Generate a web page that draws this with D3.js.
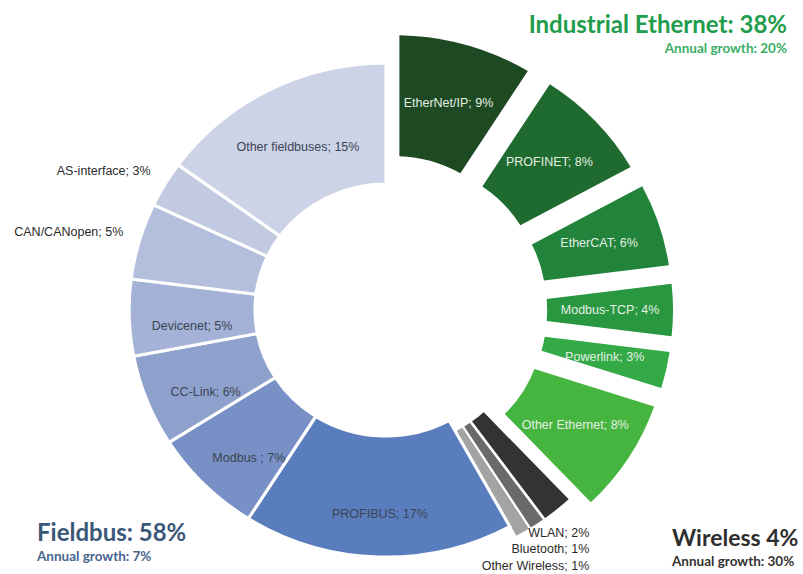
<!DOCTYPE html>
<html>
<head>
<meta charset="utf-8">
<script src="https://cdn.jsdelivr.net/npm/d3@7"></script>
<style>
  body { margin: 0; background: #fff; }
  svg { display: block; }
</style>
</head>
<body>
<div id="chart"></div>
<script>
// segments clockwise from 12 o'clock, share of installed nodes (%)
var segments = ["EtherNet/IP", "PROFINET", "EtherCAT", "Modbus-TCP", "Powerlink", "Other Ethernet",
                "WLAN", "Bluetooth", "Other Wireless",
                "PROFIBUS", "Modbus ", "CC-Link", "Devicenet", "CAN/CANopen", "AS-interface", "Other fieldbuses"];
var shares = [9, 8, 6, 4, 3, 8, 2, 1, 1, 17, 7, 6, 5, 5, 3, 15];
var segmentGroup = ["eth", "eth", "eth", "eth", "eth", "eth",
                    "wl", "wl", "wl",
                    "fb", "fb", "fb", "fb", "fb", "fb", "fb"];

var groups = ["eth", "wl", "fb"];
var groupTitles = ["Industrial Ethernet: 38%", "Wireless 4%", "Fieldbus: 58%"];
var groupGrowth = ["Annual growth: 20%", "Annual growth: 30%", "Annual growth: 7%"];

// labels drawn outside the ring
var outsideLabels = ["CAN/CANopen", "AS-interface"];

var W = 803, H = 574;
var cx = 386, cy = 310, sx = 1.04;
var rIn = 126, rOut = 247;

var colors = d3.scaleOrdinal()
  .domain(segments)
  .range(["#1d4a22", "#1e6a2f", "#22843a", "#28973f", "#33aa46", "#46b540",
          "#333333", "#6a6a6a", "#a3a3a3",
          "#5a7ebd", "#7890c5", "#8ea1cd", "#a3b2d6", "#b3bfdc", "#c1cae1", "#cdd3e7"]);

var explode = { eth: 29, wl: 12, fb: 0 };
var pad = { eth: 0.048, wl: 0, fb: 0 };
var strokeW = { eth: 0, wl: 1.5, fb: 3 };

var dados = segments.map(function (s, i) {
  return { name: s, share: shares[i], group: segmentGroup[i] };
});

var pie = d3.pie().sort(null).value(function (d) { return d.share; });
var arcs = pie(dados);

var arc = d3.arc()
  .innerRadius(rIn)
  .outerRadius(rOut)
  .padRadius(200)
  .padAngle(function (d) { return pad[d.data.group]; });

function shift(d) {
  var a = (d.startAngle + d.endAngle) / 2, e = explode[d.data.group];
  return [Math.sin(a) * e, -Math.cos(a) * e];
}

var svg = d3.select("#chart").append("svg")
  .attr("width", W)
  .attr("height", H);

var ring = svg.append("g")
  .attr("transform", "translate(" + cx + "," + cy + ") scale(" + sx + ",1)");

ring.selectAll("path")
  .data(arcs)
  .enter()
  .append("path")
    .attr("d", arc)
    .attr("transform", function (d) { return "translate(" + shift(d) + ")"; })
    .attr("fill", function (d) { return colors(d.data.name); })
    .attr("stroke", "#fff")
    .attr("stroke-width", function (d) { return strokeW[d.data.group]; });

// slice labels
function toScreen(p) { return [cx + sx * p[0], cy + p[1]]; }

var labelArc = d3.arc().innerRadius(rIn).outerRadius(rOut);
var outerArc = d3.arc().innerRadius(rOut + 16).outerRadius(rOut + 16);

function labelPos(d) {
  var c = labelArc.centroid(d), s = shift(d);
  var p = toScreen([c[0] + s[0], c[1] + s[1]]);
  if (d.data.group == "fb") {
    // fieldbus labels sit a little below the centroid
    var a = (d.startAngle + d.endAngle) / 2;
    p[1] += 10 - 8 * Math.cos(a);
  }
  return p;
}

var inside = arcs.filter(function (d) {
  return d.data.group != "wl" && outsideLabels.indexOf(d.data.name) < 0;
});

svg.selectAll("text.inlabel")
  .data(inside)
  .enter()
  .append("text")
    .attr("class", "inlabel")
    .attr("x", function (d) { return labelPos(d)[0]; })
    .attr("y", function (d) { return labelPos(d)[1]; })
    .attr("text-anchor", "middle")
    .attr("dominant-baseline", "central")
    .attr("font-family", "Liberation Sans, Arial, sans-serif")
    .attr("font-size", 12.5)
    .attr("fill", function (d) { return d.data.group == "eth" ? "#e4efe4" : "#3b4453"; })
    .text(function (d) { return d.data.name + "; " + d.data.share + "%"; });

svg.selectAll("text.outlabel")
  .data(arcs.filter(function (d) { return outsideLabels.indexOf(d.data.name) >= 0; }))
  .enter()
  .append("text")
    .attr("class", "outlabel")
    .attr("x", function (d) { return toScreen(outerArc.centroid(d))[0]; })
    .attr("y", function (d) { return toScreen(outerArc.centroid(d))[1] - 5; })
    .attr("text-anchor", "end")
    .attr("dominant-baseline", "central")
    .attr("font-family", "Liberation Sans, Arial, sans-serif")
    .attr("font-size", 12.5)
    .attr("fill", "#2b2b2b")
    .text(function (d) { return d.data.name + "; " + d.data.share + "%"; });

// wireless labels stacked under the wedge
var wl = arcs.filter(function (d) { return d.data.group == "wl"; });
var wlAnchor = toScreen(outerArc.centroid(wl[0]));
svg.selectAll("text.wllabel")
  .data(wl)
  .enter()
  .append("text")
    .attr("class", "wllabel")
    .attr("x", wlAnchor[0] + 29)
    .attr("y", function (d, i) { return wlAnchor[1] + 20 + i * 16.5; })
    .attr("text-anchor", "end")
    .attr("dominant-baseline", "central")
    .attr("font-family", "Liberation Sans, Arial, sans-serif")
    .attr("font-size", 12.5)
    .attr("fill", "#2b2b2b")
    .text(function (d) { return d.data.name + "; " + d.data.share + "%"; });

// group titles
var titlePos = [
  { x: 787, y: 33, anchor: "end", size: 24, color: "#1f9d4c", sub: "#3aae66" },
  { x: 672, y: 546, anchor: "start", size: 23, color: "#2e2e2e", sub: "#333333" },
  { x: 37, y: 541, anchor: "start", size: 24, color: "#3b5878", sub: "#47658c" }
];

groups.forEach(function (g, i) {
  var p = titlePos[i];
  svg.append("text")
    .attr("x", p.x).attr("y", p.y)
    .attr("text-anchor", p.anchor)
    .attr("font-family", "Lato, sans-serif")
    .attr("font-weight", "bold")
    .attr("font-size", p.size)
    .attr("fill", p.color)
    .text(groupTitles[i]);
  svg.append("text")
    .attr("x", p.x).attr("y", p.y + 20)
    .attr("text-anchor", p.anchor)
    .attr("font-family", "Lato, sans-serif")
    .attr("font-weight", "bold")
    .attr("font-size", 13.5)
    .attr("fill", p.sub)
    .text(groupGrowth[i]);
});
</script>
</body>
</html>
